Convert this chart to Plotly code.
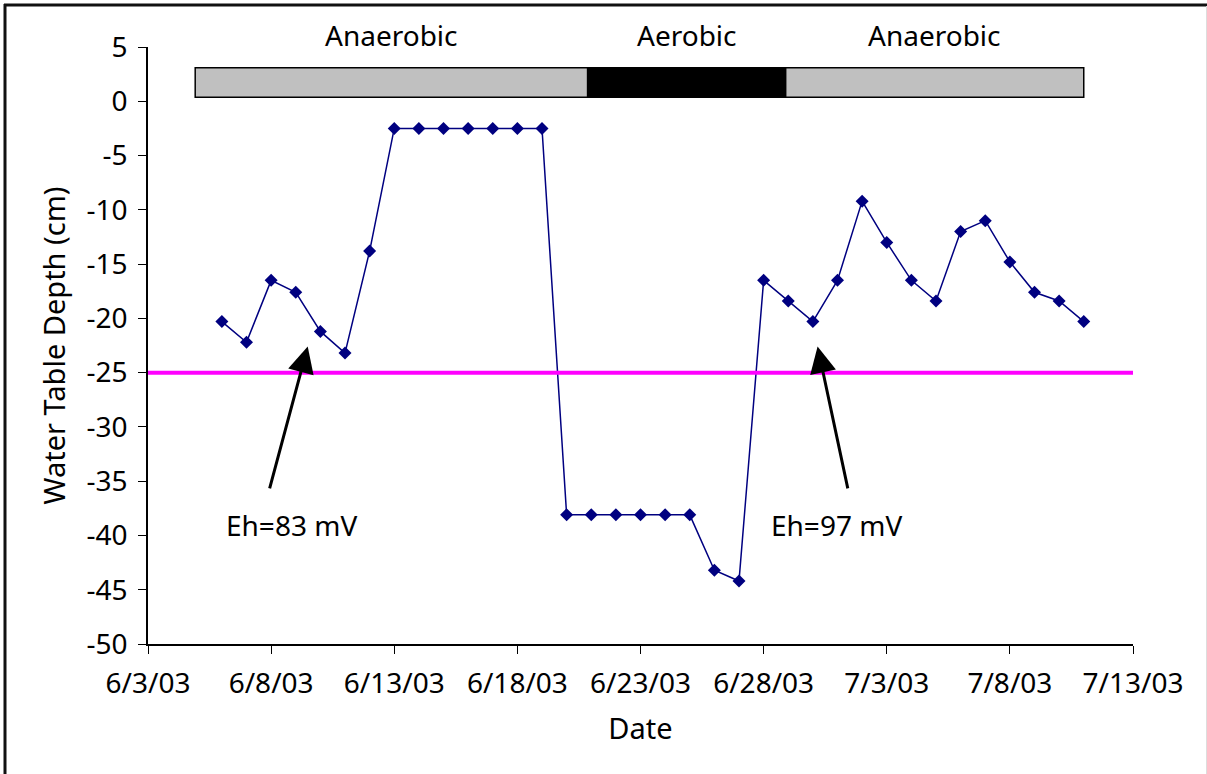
import plotly.graph_objects as go
import pandas as pd

# Daily water table readings, 6/6/03 - 7/11/03
dates = [
    "2003-06-06", "2003-06-07", "2003-06-08", "2003-06-09", "2003-06-10", "2003-06-11",
    "2003-06-12", "2003-06-13", "2003-06-14", "2003-06-15", "2003-06-16", "2003-06-17",
    "2003-06-18", "2003-06-19", "2003-06-20", "2003-06-21", "2003-06-22", "2003-06-23",
    "2003-06-24", "2003-06-25", "2003-06-26", "2003-06-27", "2003-06-28", "2003-06-29",
    "2003-06-30", "2003-07-01", "2003-07-02", "2003-07-03", "2003-07-04", "2003-07-05",
    "2003-07-06", "2003-07-07", "2003-07-08", "2003-07-09", "2003-07-10", "2003-07-11",
]
depth_cm = [
    -20.3, -22.2, -16.5, -17.6, -21.2, -23.2,
    -13.8, -2.5, -2.5, -2.5, -2.5, -2.5,
    -2.5, -2.5, -38.1, -38.1, -38.1, -38.1,
    -38.1, -38.1, -43.2, -44.2, -16.5, -18.4,
    -20.3, -16.5, -9.2, -13.0, -16.5, -18.4,
    -12.0, -11.0, -14.8, -17.6, -18.4, -20.3,
]

# Threshold depth
threshold_cm = -25

# Redox phases shown as a bar above the data
phase_labels = ["Anaerobic", "Aerobic", "Anaerobic"]
phase_start = ["2003-06-04 22:00", "2003-06-20 20:30", "2003-06-28 21:30"]
phase_end = ["2003-06-20 20:30", "2003-06-28 21:30", "2003-07-11 00:00"]
phase_colors = ["#C0C0C0", "#000000", "#C0C0C0"]
phase_bar_bottom, phase_bar_top = 0.37, 3.09
phase_label_y = 6.1

# Eh callouts: (text, text position, arrow tail, arrow tip)
eh_labels = ["Eh=83 mV", "Eh=97 mV"]
eh_text_x = ["2003-06-08 20:20", "2003-06-30 22:35"]
eh_text_y = [-39.0, -39.0]
eh_tail_x = ["2003-06-07 22:10", "2003-07-01 10:20"]
eh_tail_y = [-35.8, -35.8]
eh_tip_x = ["2003-06-09 11:40", "2003-06-30 04:35"]
eh_tip_y = [-22.6, -22.6]

# Axis ticks
x_tickvals = ["2003-06-03", "2003-06-08", "2003-06-13", "2003-06-18", "2003-06-23",
              "2003-06-28", "2003-07-03", "2003-07-08", "2003-07-13"]
x_ticktext = ["6/3/03", "6/8/03", "6/13/03", "6/18/03", "6/23/03",
              "6/28/03", "7/3/03", "7/8/03", "7/13/03"]
y_tickvals = [5, 0, -5, -10, -15, -20, -25, -30, -35, -40, -45, -50]
y_ticktext = ["5", "0", "-5", "-10", "-15", "-20", "-25", "-30", "-35", "-40", "-45", "-50"]
y_range = [-50, 5]

FONT = "Noto Sans"
TICK_SIZE = 28
TEXT_SIZE = 28
TITLE_SIZE = 29

fig = go.Figure()
fig.add_trace(go.Scatter(
    x=dates, y=depth_cm, mode="lines+markers",
    line=dict(color="#000080", width=1.5),
    marker=dict(symbol="diamond", size=10, color="#000080"),
    showlegend=False,
))

shapes = []
for s, e, c in zip(phase_start, phase_end, phase_colors):
    shapes.append(dict(type="rect", xref="x", yref="y", x0=s, x1=e,
                       y0=phase_bar_bottom, y1=phase_bar_top,
                       fillcolor=c, line=dict(color="#000000", width=1.5),
                       layer="above"))

shapes.append(dict(type="line", xref="paper", yref="y", x0=0, x1=1,
                   y0=threshold_cm, y1=threshold_cm,
                   line=dict(color="#FF00FF", width=4), layer="above"))

# Outer frame (top and left edges)
W, H = 1207, 774
ml, mr, mt, mb = 148, 74, 47, 130
pw, ph = W - ml - mr, H - mt - mb


def px_x(p):
    return (p - ml) / pw


def px_y(p):
    return (H - mb - p) / ph


def data_to_paper_y(v):
    return (v - y_range[0]) / (y_range[1] - y_range[0])


shapes.append(dict(type="line", xref="paper", yref="paper",
                   x0=px_x(4), x1=px_x(1210), y0=px_y(5), y1=px_y(5),
                   line=dict(color="#111111", width=3)))
shapes.append(dict(type="line", xref="paper", yref="paper",
                   x0=px_x(5), x1=px_x(5), y0=px_y(4), y1=px_y(780),
                   line=dict(color="#111111", width=3)))
shapes.append(dict(type="line", xref="paper", yref="paper",
                   x0=px_x(1206.5), x1=px_x(1206.5), y0=px_y(6), y1=px_y(780),
                   line=dict(color="#DDDDDD", width=1)))

annotations = []
# phase labels, centred over their bars
for lab, s, e in zip(phase_labels, phase_start, phase_end):
    t0, t1 = pd.Timestamp(s), pd.Timestamp(e)
    mid = (t0 + (t1 - t0) / 2).strftime("%Y-%m-%d %H:%M:%S")
    annotations.append(dict(
        x=mid, xref="x", y=data_to_paper_y(phase_label_y), yref="paper",
        text=lab, showarrow=False,
        font=dict(family=FONT, size=TEXT_SIZE, color="#000000"),
        xanchor="center", yanchor="middle",
    ))

for tx, ty, ax, ay, hx, hy, lab in zip(eh_text_x, eh_text_y, eh_tail_x, eh_tail_y,
                                       eh_tip_x, eh_tip_y, eh_labels):
    annotations.append(dict(
        x=hx, y=hy, xref="x", yref="y", ax=ax, ay=ay, axref="x", ayref="y",
        showarrow=True, arrowhead=2, arrowsize=1.75, arrowwidth=3,
        arrowcolor="#000000", text="",
    ))
    annotations.append(dict(
        x=tx, y=ty, xref="x", yref="y", text=lab, showarrow=False,
        font=dict(family=FONT, size=TEXT_SIZE, color="#000000"),
        xanchor="center", yanchor="middle",
    ))

fig.update_layout(
    width=W, height=H,
    margin=dict(l=ml, r=mr, t=mt, b=mb, autoexpand=False),
    paper_bgcolor="white", plot_bgcolor="white",
    font=dict(family=FONT, size=TICK_SIZE, color="#000000"),
    shapes=shapes, annotations=annotations,
    showlegend=False,
)
fig.update_xaxes(
    type="date", range=["2003-06-03", "2003-07-13"],
    tickvals=x_tickvals, ticktext=x_ticktext,
    ticks="outside", ticklen=8, tickwidth=1, tickcolor="#000000",
    ticklabelstandoff=6,
    showline=True, linecolor="#000000", linewidth=1.5,
    showgrid=False, zeroline=False,
    tickfont=dict(family=FONT, size=TICK_SIZE),
    title=dict(text="Date", font=dict(family=FONT, size=TITLE_SIZE), standoff=18),
    automargin=False,
)
fig.update_yaxes(
    range=y_range, tickvals=y_tickvals, ticktext=y_ticktext,
    ticks="outside", ticklen=8, tickwidth=1, tickcolor="#000000",
    ticklabelstandoff=5,
    showline=True, linecolor="#000000", linewidth=1.5,
    showgrid=False, zeroline=False,
    tickfont=dict(family=FONT, size=TICK_SIZE),
    title=dict(text="Water Table Depth (cm)", font=dict(family=FONT, size=TITLE_SIZE), standoff=12),
    automargin=False,
)

fig.write_html("out.html")
